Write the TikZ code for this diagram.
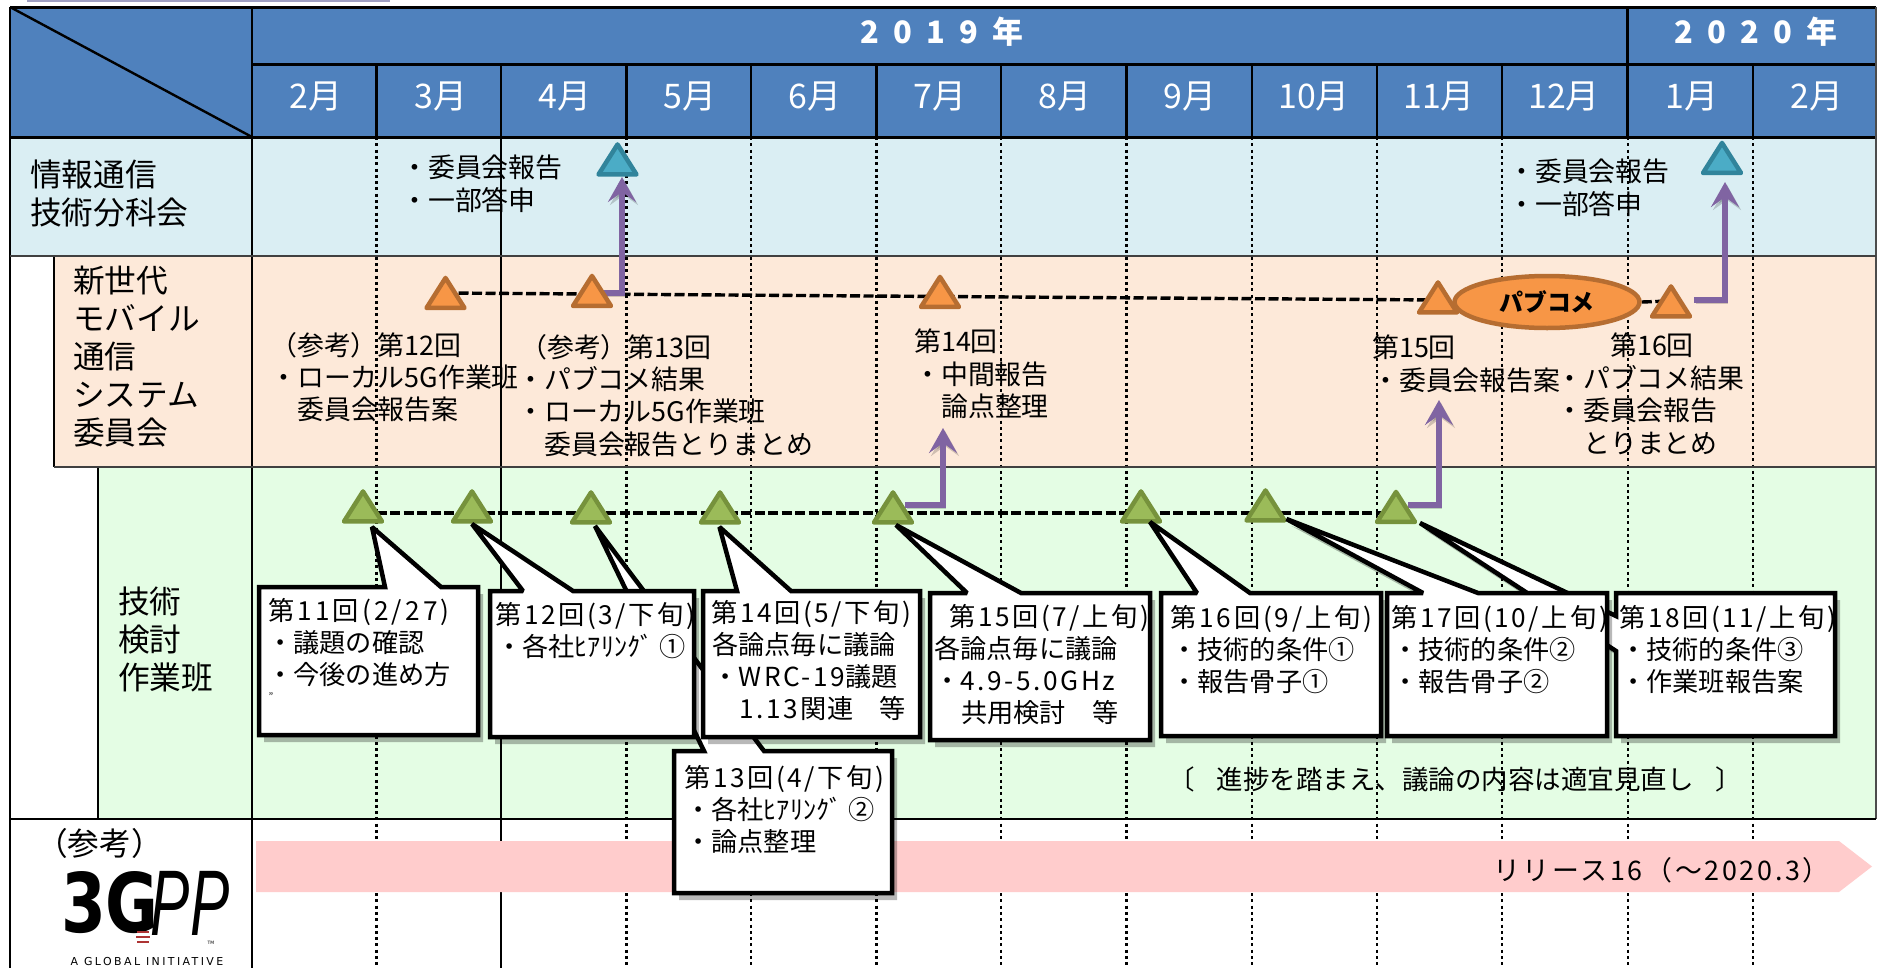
\documentclass[tikz,border=0pt]{standalone}
\usepackage{fontspec}
\usepackage{graphicx}
\setmainfont{Noto Sans CJK JP}
\newfontfamily\logobold{DejaVu Sans}
\newfontfamily\logothin{Liberation Sans}
\newfontfamily\yearfont[WordSpace=2.0]{Noto Sans CJK JP}
\usetikzlibrary{shapes.geometric,arrows.meta,calc}
\pgfdeclarelayer{bgl}\pgfdeclarelayer{conn}\pgfsetlayers{bgl,conn,main}
\definecolor{hdr}{HTML}{4F81BD}
\definecolor{rowblue}{HTML}{DAEEF3}
\definecolor{roworange}{HTML}{FDE9D9}
\definecolor{rowgreen}{HTML}{E4FDE4}
\definecolor{pinkbar}{HTML}{FFCCCC}
\definecolor{purp}{HTML}{8064A2}
\newcommand\ind{\hspace*{13.5bp}}
\newcommand\wide[1]{{\addfontfeature{LetterSpace=10}#1}}
\tikzset{
  x=1bp,y=-1bp,
  tribase/.style={isosceles triangle,isosceles triangle stretches,shape border rotate=90,minimum width=38bp,minimum height=30bp,inner sep=0pt,outer sep=0pt,line width=4.5bp,line join=round},
  triblue/.style={tribase,draw=hdrtri,fill=filltri},
  triorange/.style={tribase,draw=orline,fill=orfill},
  trigreen/.style={tribase,draw=grline,fill=grfill},
  grid/.style={line width=2.4bp,black},
  rowline/.style={line width=2.6bp,black!75},
  dotv/.style={line width=2.2bp,black,dash pattern=on 3bp off 3.3bp},
  dashconn/.style={line width=3.4bp,black,dash pattern=on 10bp off 3.5bp},
  purparrow/.style={line width=5.5bp,purp,-{Stealth[length=25bp,width=28bp,inset=10bp]},preaction={draw=black,opacity=.18,transform canvas={shift={(2,3)}}}},
  callout/.style={draw=black,fill=white,line width=4.5bp,miter limit=2,preaction={fill=black,opacity=.28,transform canvas={shift={(5,7)}}}},
  mon/.style={text=white,font=\fontsize{34}{38}\selectfont},
  yr/.style={text=white,font=\yearfont\fontsize{31}{36}\selectfont\bfseries},
  lab/.style={anchor=north west,inner sep=0pt,align=left,font=\fontsize{31.8}{38}\selectfont},
  txt/.style={anchor=north west,inner sep=0pt,align=left,font=\fontsize{27}{32.5}\selectfont},
  ctxt/.style={anchor=north west,inner sep=0pt,align=left,font=\fontsize{26.3}{32.3}\selectfont},
}
\definecolor{hdrtri}{HTML}{31849B}\definecolor{filltri}{HTML}{4BACC6}
\definecolor{orline}{HTML}{B66D31}\definecolor{orfill}{HTML}{F79646}
\definecolor{grline}{HTML}{76923C}\definecolor{grfill}{HTML}{9BBB59}
\begin{document}
\begin{tikzpicture}
\useasboundingbox (0,0) rectangle (1877,968);
\begin{pgfonlayer}{bgl}
\fill[white] (0,0) rectangle (1877,968);
\fill[black!10!blue!25!gray!60] (27,0) rectangle (390,1.5);
% rows
\fill[hdr] (10,7) rectangle (1876,137);
\fill[rowblue] (10,137) rectangle (1876,256);
\fill[roworange] (54,256) rectangle (1876,467);
\fill[rowgreen] (98,467) rectangle (1876,819);
% dotted month lines
\foreach \xx in {376.5,626.5,751,876.5,1001,1126.5,1252,1377,1502,1627.6,1753}
  \draw[dotv] (\xx,137) -- (\xx,968);
% header lines
\draw[grid,line width=3bp] (10,7) -- (1876,7);
\draw[grid,line width=3bp] (252,64) -- (1876,64);
\draw[grid,line width=3bp] (10,137) -- (1876,137);
\draw[grid] (252,7) -- (252,968);
\draw[grid] (501,64) -- (501,968);
\foreach \xx in {376.5,626.5,751,876.5,1001,1126.5,1252,1377,1502,1753}
  \draw[grid] (\xx,64) -- (\xx,137);
\draw[grid] (1627.6,7) -- (1627.6,137);
\draw[grid] (10,7) -- (252,137);
\draw[grid] (10,7) -- (10,968);
\draw[grid,line width=1.6bp,black!70] (1876,7) -- (1876,819);
\draw[grid] (54,256) -- (54,467);
\draw[grid] (98,467) -- (98,819);
\draw[rowline] (10,256) -- (1876,256);
\draw[rowline] (54,467) -- (1876,467);
\draw[grid] (10,819) -- (1876,819);
% release bar
\path[fill=pinkbar] (256,841) -- (1839,841) -- (1872,866.5) -- (1839,892) -- (256,892) -- cycle;
\end{pgfonlayer}

% year and month headers
\node[yr] (y2019) at (942,32) {2 0 1 9 年};
\node[yr] (y2020) at (1756,32) {2 0 2 0 年};
\node[mon] (m1) at (316,97) {2月};
\node[mon] (m2) at (441,97) {3月};
\node[mon] (m3) at (565,97) {4月};
\node[mon] (m4) at (690,97) {5月};
\node[mon] (m5) at (815,97) {6月};
\node[mon] (m6) at (940,97) {7月};
\node[mon] (m7) at (1065,97) {8月};
\node[mon] (m8) at (1190,97) {9月};
\node[mon] (m9) at (1314,97) {10月};
\node[mon] (m10) at (1439,97) {11月};
\node[mon] (m11) at (1564,97) {12月};
\node[mon] (m12) at (1692,97) {1月};
\node[mon] (m13) at (1817,97) {2月};

% row labels
\node[lab] (l1) at (30,160) {情報通信\\技術分科会};
\node[lab] (l2) at (73,266) {新世代\\モバイル\\通信\\システム\\委員会};
\node[lab] (l3) at (118,587) {技術\\検討\\作業班};
\node[lab] (l4) at (36,828) {（参考）};

% triangles
\node[triblue] (b1) at (617.5,164) {};
\node[triblue] (b2) at (1722,162.5) {};
\node[triorange] (o1) at (445.5,297.5) {};
\node[triorange] (o2) at (592,295.5) {};
\node[triorange] (o3) at (940,296.5) {};
\node[triorange] (o4) at (1438,302) {};
\node[triorange] (o5) at (1671,306) {};
\node[trigreen] (g1) at (363,511) {};
\node[trigreen] (g2) at (472,511) {};
\node[trigreen] (g3) at (591,512) {};
\node[trigreen] (g4) at (720,512) {};
\node[trigreen] (g5) at (893,512) {};
\node[trigreen] (g6) at (1141,511) {};
\node[trigreen] (g7) at (1265.5,510) {};
\node[trigreen] (g8) at (1396,511.5) {};
\node[draw=orline,fill=orfill,ellipse,line width=4.5bp,minimum width=185bp,minimum height=52bp,inner sep=0pt,font=\fontsize{24}{28}\selectfont\bfseries] (pub) at (1547,302) {パブコメ};

% connectors
\coordinate (s1) at (600,293);\coordinate (a1) at (622,177);
\coordinate (s2) at (1694,300);\coordinate (a2) at (1725,182);
\coordinate (s3) at (905,505);\coordinate (a3) at (943,428);
\coordinate (s4) at (1408,505);\coordinate (a4) at (1439,400);
\coordinate (d1) at (445,293);\coordinate (d2) at (1438,300);
\coordinate (d3) at (1671,301);\coordinate (dg) at (0,513);
\begin{pgfonlayer}{conn}
\draw[dashconn] (d1) -- (d2);
\draw[dashconn] (pub.east) -- (d3);
\draw[dashconn] (g1 |- dg) -- (g8 |- dg);
\draw[purparrow] (s1) -| (a1);
\draw[purparrow] (s2) -| (a2);
\draw[purparrow] (s3) -| (a3);
\draw[purparrow] (s4) -| (a4);
\end{pgfonlayer}

% upper texts
\node[txt] (t1) at (401,155) {・委員会報告\\・一部答申};
\node[txt] (t2) at (1508,159) {・委員会報告\\・一部答申};
\node[txt] (t3) at (270,332) {（参考）第12回\\・ローカル5G作業班\\\ind\ind 委員会報告案};
\node[txt] (t4) at (517,334) {\hspace*{3bp}（参考）第13回\\・パブコメ結果\\・ローカル5G作業班\\\ind\ind 委員会報告とりまとめ};
\node[txt] (t5) at (914,329) {第14回\\・中間報告\\\ind\ind 論点整理};
\node[txt] (t6) at (1372,335) {第15回\\・委員会報告案};
\node[txt] (t7) at (1556,333) {\hspace*{54bp}第16回\\・パブコメ結果\\・委員会報告\\\ind\ind とりまとめ};

% callouts (those that lie partly behind others come first)
\draw[callout] (1616,593) -- (1835,593) -- (1835,736) -- (1616,736) -- (1616,651) -- (1420,523) -- (1616,616) -- cycle;
\draw[callout] (674,751) -- (704,751) -- (595,526) -- (764,751) -- (892,751) -- (892,893) -- (674,893) -- cycle;
\draw[callout] (259,587) -- (385,587) -- (372,527) -- (441,587) -- (478,587) -- (478,735) -- (259,735) -- cycle;
\draw[callout] (490,591) -- (523,591) -- (472,524) -- (573,591) -- (694,591) -- (694,737) -- (490,737) -- cycle;
\draw[callout] (703,591) -- (737,591) -- (719.5,527) -- (791,591) -- (920,591) -- (920,737) -- (703,737) -- cycle;
\draw[callout] (930,593) -- (967,593) -- (896,525) -- (1021,593) -- (1150,593) -- (1150,740) -- (930,740) -- cycle;
\draw[callout] (1161,593) -- (1197,593) -- (1150,522) -- (1250,593) -- (1381,593) -- (1381,736) -- (1161,736) -- cycle;
\draw[callout] (1387,593) -- (1423,593) -- (1286.5,519) -- (1478,593) -- (1607,593) -- (1607,736) -- (1387,736) -- cycle;

\node[ctxt] (c1) at (268,598) {{\addfontfeature{LetterSpace=12}第11回(2/27)}\\\hspace*{-1bp}・議題の確認\\\hspace*{-1bp}・今後の進め方};
\node[inner sep=0pt,font=\fontsize{10}{12}\selectfont] (c1b) at (271,697) {"};
\node[ctxt] (c2) at (495,602) {\wide{第12回(3/下旬)}\\\hspace*{1bp}・各社ﾋｱﾘﾝｸﾞ ①};
\node[ctxt] (c3) at (684,765) {\wide{第13回(4/下旬)}\\\hspace*{1bp}・各社ﾋｱﾘﾝｸﾞ ②\\\hspace*{1bp}・論点整理};
\node[ctxt] (c4) at (711,600) {\wide{第14回(5/下旬)}\\\hspace*{1bp}各論点毎に議論\\\hspace*{1bp}・\wide{WRC-19}議題\\\hspace*{1bp}\ind\ind \wide{1.13}\hspace{3bp}関連　等};
\node[ctxt] (c5) at (934,604) {\hspace*{15bp}\wide{第15回(7/上旬)}\\各論点毎に議論\\・\wide{4.9-5.0GHz}\\\ind\ind 共用検討　等};
\node[ctxt] (c6) at (1170,605) {{\addfontfeature{LetterSpace=11}第16回(9/上旬)}\\\hspace*{1bp}・技術的条件①\\\hspace*{1bp}・報告骨子①};
\node[ctxt] (c7) at (1391,605) {\wide{第17回(10/上旬)}\\\hspace*{1bp}・技術的条件②\\\hspace*{1bp}・報告骨子②};
\node[ctxt] (c8) at (1619,605) {\wide{第18回(11/上旬)}\\\hspace*{1bp}・技術的条件③\\\hspace*{1bp}・作業班報告案};

\node[inner sep=0pt,font=\fontsize{26.6}{32}\selectfont] (note) at (1455,779) {〔\hspace{22bp}進捗を踏まえ、議論の内容は適宜見直し\hspace{22bp}〕};
\node[inner sep=0pt,anchor=east,font=\fontsize{27}{32}\selectfont\addfontfeature{LetterSpace=10}] (rel) at (1830,870) {リリース16（～2020.3）};

% 3GPP logo
\node[inner sep=0pt,font=\logobold\fontsize{66}{70}\selectfont\bfseries] (logoa) at (110,903) {\scalebox{.98}[1.25]{3G}};
\node[inner sep=0pt,font=\logothin\fontsize{72}{76}\selectfont\itshape] (logob) at (190,903) {\scalebox{.82}[1.3]{PP}};
\draw[red!60!black!80,line width=1.6bp] (137,932) -- (149,932) (136,937) -- (150,937) (137,942) -- (149,942);
\node[inner sep=0pt,font=\logobold\fontsize{4.5}{5}\selectfont] (logoc) at (211,943) {TM};
\node[inner sep=0pt,font=\logobold\fontsize{11}{12}\selectfont\addfontfeature{LetterSpace=22}] (logod) at (147,961) {A GLOBAL INITIATIVE};
\end{tikzpicture}
\end{document}
